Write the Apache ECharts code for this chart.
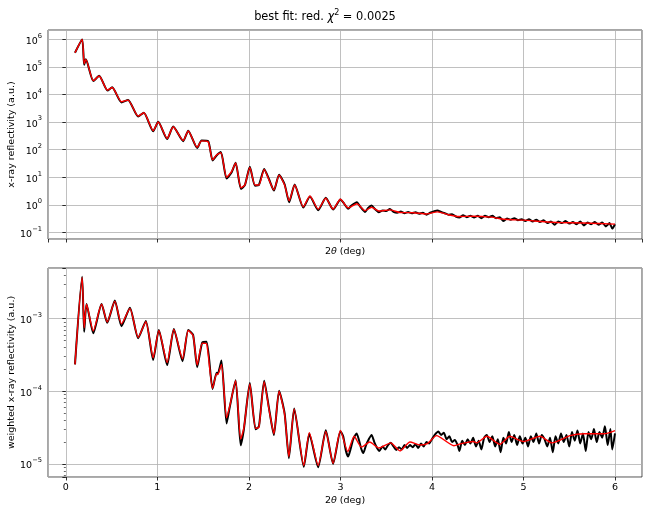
<!DOCTYPE html>
<html>
<head>
<meta charset="utf-8">
<script src="https://cdn.jsdelivr.net/npm/echarts@6/dist/echarts.min.js"></script>
<style>
  html, body { margin: 0; padding: 0; background: #fff; }
  #chart { width: 650px; height: 513px; }
</style>
</head>
<body>
<div id="chart"></div>
<script>
// reflectivity R(2theta), measured (black) and best fit (red)
const topFit = [
  [0.1, 3.3e5], [0.178, 1.0e6], [0.2, 1.3e5], [0.219, 1.9e5], [0.3, 3.2e4], [0.364, 4.7e4],
  [0.455, 1.45e4], [0.506, 1.8e4], [0.608, 5.5e3], [0.68, 6.3e3], [0.79, 1.66e3], [0.852, 2.2e3],
  [0.954, 490], [1.009, 1020], [1.107, 257], [1.173, 680], [1.282, 214], [1.337, 480],
  [1.435, 123], [1.483, 210], [1.555, 195], [1.603, 43], [1.647, 65], [1.694, 78],
  [1.756, 10], [1.81, 16], [1.855, 33], [1.913, 4.2], [1.956, 5.3], [2.01, 23],
  [2.066, 5.3], [2.11, 5.3], [2.167, 19.5], [2.22, 8], [2.273, 3.5], [2.33, 12],
  [2.39, 5.3], [2.44, 1.4], [2.5, 5.3], [2.594, 0.85], [2.667, 2.1], [2.757, 0.7],
  [2.84, 1.74], [2.92, 0.7], [3.0, 1.6], [3.085, 0.78], [3.18, 1.1], [3.27, 0.62],
  [3.34, 0.82], [3.42, 0.6], [3.54, 0.66], [3.65, 0.53], [3.8, 0.52], [3.94, 0.47],
  [4.06, 0.56], [4.18, 0.44], [4.29, 0.38], [4.45, 0.39], [4.65, 0.36], [4.79, 0.3],
  [5.0, 0.28], [5.2, 0.25], [5.38, 0.23], [5.65, 0.22], [6.0, 0.2]
];
const topData = [
  [0.1, 3.3e5], [0.178, 1.0e6], [0.2, 1.2e5], [0.219, 1.9e5], [0.3, 3.1e4], [0.364, 4.8e4],
  [0.455, 1.4e4], [0.506, 1.85e4], [0.608, 5.2e3], [0.68, 6.4e3], [0.79, 1.6e3], [0.852, 2.2e3],
  [0.954, 470], [1.009, 1030], [1.107, 245], [1.173, 690], [1.282, 205], [1.337, 490],
  [1.435, 115], [1.483, 215], [1.555, 205], [1.603, 41], [1.647, 62], [1.694, 82],
  [1.756, 9], [1.81, 15], [1.855, 34], [1.913, 3.8], [1.956, 5.2], [2.01, 24],
  [2.066, 5.0], [2.11, 5.4], [2.167, 20], [2.22, 8.5], [2.273, 3.3], [2.33, 12.5],
  [2.39, 5.6], [2.44, 1.25], [2.5, 5.5], [2.594, 0.8], [2.667, 2.0], [2.757, 0.64],
  [2.84, 1.8], [2.92, 0.68],
  [3.0, 1.58], [3.04, 1.12], [3.085, 0.72], [3.12, 0.95], [3.18, 1.26], [3.22, 0.83],
  [3.27, 0.55], [3.3, 0.76], [3.34, 0.95], [3.38, 0.69], [3.42, 0.54], [3.46, 0.63],
  [3.5, 0.6], [3.54, 0.71], [3.58, 0.56], [3.62, 0.52], [3.66, 0.58], [3.7, 0.5],
  [3.74, 0.55], [3.78, 0.5], [3.82, 0.54], [3.86, 0.48], [3.9, 0.52], [3.94, 0.44],
  [3.98, 0.52], [4.02, 0.58], [4.06, 0.63], [4.1, 0.55], [4.14, 0.5], [4.18, 0.44],
  [4.22, 0.46], [4.26, 0.38], [4.3, 0.35], [4.34, 0.42], [4.38, 0.36], [4.42, 0.4],
  [4.46, 0.35], [4.5, 0.4], [4.54, 0.33], [4.58, 0.4], [4.62, 0.36], [4.66, 0.4],
  [4.7, 0.33], [4.74, 0.36], [4.78, 0.26], [4.82, 0.32], [4.86, 0.29], [4.9, 0.33],
  [4.94, 0.28], [4.98, 0.3], [5.02, 0.26], [5.06, 0.3], [5.1, 0.25], [5.14, 0.29],
  [5.18, 0.24], [5.22, 0.28], [5.26, 0.22], [5.3, 0.25], [5.34, 0.19], [5.38, 0.25],
  [5.42, 0.22], [5.46, 0.26], [5.5, 0.21], [5.54, 0.24], [5.58, 0.2], [5.62, 0.25],
  [5.66, 0.18], [5.7, 0.23], [5.74, 0.2], [5.78, 0.24], [5.82, 0.19], [5.86, 0.23],
  [5.9, 0.166], [5.94, 0.22], [5.97, 0.138], [6.0, 0.2]
];

// weighted reflectivity
const bottomFit = [
  [0.1, 2.35e-4], [0.178, 3.7e-3], [0.2, 7.5e-4], [0.226, 1.58e-3], [0.3, 6.8e-4], [0.39, 1.58e-3],
  [0.452, 9.0e-4], [0.535, 1.75e-3], [0.608, 8.5e-4], [0.7, 1.39e-3], [0.79, 5.5e-4], [0.874, 9.1e-4],
  [0.954, 2.9e-4], [1.016, 6.9e-4], [1.107, 2.5e-4], [1.18, 7.1e-4], [1.275, 2.8e-4], [1.337, 6.9e-4],
  [1.39, 5.9e-4], [1.435, 2.3e-4], [1.49, 4.6e-4], [1.538, 4.5e-4], [1.603, 1.1e-4], [1.647, 1.75e-4],
  [1.66, 1.7e-4], [1.7, 2.35e-4], [1.756, 4.3e-5], [1.79, 6.2e-5], [1.855, 1.4e-4], [1.91, 2.2e-5],
  [1.945, 3.1e-5], [2.01, 1.26e-4], [2.073, 3.1e-5], [2.11, 3.2e-5], [2.167, 1.36e-4], [2.22, 5.6e-5],
  [2.273, 2.6e-5], [2.33, 1.0e-4], [2.39, 4.8e-5], [2.437, 1.26e-5], [2.495, 5.7e-5], [2.6, 9.5e-6],
  [2.66, 2.7e-5], [2.757, 9.5e-6], [2.84, 2.8e-5], [2.92, 1.02e-5], [3.0, 2.88e-5], [3.08, 1.48e-5],
  [3.15, 2.4e-5], [3.23, 1.7e-5], [3.32, 2.0e-5], [3.42, 1.66e-5], [3.55, 1.95e-5], [3.65, 1.51e-5],
  [3.76, 2.0e-5], [3.87, 1.82e-5], [3.95, 1.9e-5], [4.05, 2.45e-5], [4.24, 1.78e-5], [4.32, 1.9e-5],
  [4.45, 2.04e-5], [4.49, 1.95e-5], [4.6, 2.4e-5], [4.74, 1.86e-5], [4.85, 2.4e-5], [5.0, 2.04e-5],
  [5.18, 2.4e-5], [5.31, 1.95e-5], [5.51, 2.45e-5], [5.66, 2.6e-5], [5.88, 2.6e-5], [6.0, 2.88e-5]
];
const bottomData = [
  [0.1, 2.35e-4], [0.178, 3.8e-3], [0.2, 6.6e-4], [0.226, 1.6e-3], [0.3, 6.3e-4], [0.39, 1.6e-3],
  [0.452, 8.8e-4], [0.535, 1.78e-3], [0.608, 7.9e-4], [0.7, 1.42e-3], [0.79, 5.4e-4], [0.874, 9.3e-4],
  [0.954, 2.7e-4], [1.016, 7.0e-4], [1.107, 2.3e-4], [1.18, 7.2e-4], [1.275, 2.6e-4], [1.337, 7.0e-4],
  [1.39, 6.0e-4], [1.435, 2.15e-4], [1.49, 4.7e-4], [1.538, 4.8e-4], [1.603, 1.08e-4], [1.647, 1.8e-4],
  [1.66, 1.75e-4], [1.7, 2.65e-4], [1.756, 3.6e-5], [1.79, 6.0e-5], [1.855, 1.42e-4], [1.91, 1.8e-5],
  [1.945, 3.0e-5], [2.01, 1.3e-4], [2.073, 3.0e-5], [2.11, 3.3e-5], [2.167, 1.4e-4], [2.22, 5.8e-5],
  [2.273, 2.5e-5], [2.33, 1.02e-4], [2.39, 5.0e-5], [2.437, 1.2e-5], [2.495, 5.8e-5], [2.6, 9.1e-6],
  [2.66, 2.6e-5], [2.757, 9.0e-6], [2.84, 2.9e-5], [2.92, 1.0e-5],
  [3.0, 2.82e-5], [3.03, 2.4e-5], [3.06, 1.51e-5], [3.085, 1.26e-5], [3.11, 1.58e-5], [3.14, 2.19e-5],
  [3.177, 2.63e-5], [3.2, 2.19e-5], [3.23, 1.58e-5], [3.25, 1.41e-5], [3.28, 1.82e-5], [3.31, 2.19e-5],
  [3.34, 2.51e-5], [3.37, 2.0e-5], [3.4, 1.66e-5], [3.425, 1.51e-5], [3.46, 1.74e-5], [3.49, 1.58e-5],
  [3.52, 1.82e-5], [3.55, 1.95e-5], [3.58, 1.74e-5], [3.61, 1.55e-5], [3.64, 1.7e-5], [3.67, 1.58e-5],
  [3.7, 1.82e-5], [3.73, 1.66e-5], [3.76, 1.82e-5], [3.79, 1.7e-5], [3.82, 1.86e-5], [3.85, 1.66e-5],
  [3.88, 1.91e-5], [3.91, 1.74e-5], [3.94, 2.0e-5], [3.97, 1.91e-5], [4.0, 2.19e-5], [4.03, 2.51e-5],
  [4.07, 2.79e-5], [4.1, 2.51e-5], [4.13, 2.69e-5], [4.16, 2.19e-5], [4.19, 2.4e-5], [4.22, 2.0e-5],
  [4.25, 2.14e-5], [4.28, 1.82e-5], [4.3, 1.51e-5], [4.33, 2.09e-5], [4.36, 1.82e-5], [4.39, 2.19e-5],
  [4.42, 1.91e-5], [4.45, 2.29e-5], [4.48, 1.74e-5], [4.51, 2.09e-5], [4.54, 1.58e-5], [4.57, 2.29e-5],
  [4.6, 2.51e-5], [4.63, 2.0e-5], [4.66, 2.4e-5], [4.69, 1.74e-5], [4.72, 2.19e-5], [4.75, 1.45e-5],
  [4.78, 2.29e-5], [4.81, 1.91e-5], [4.84, 2.75e-5], [4.87, 2.0e-5], [4.9, 2.51e-5], [4.93, 1.82e-5],
  [4.96, 2.4e-5], [4.99, 1.91e-5], [5.02, 2.29e-5], [5.05, 1.74e-5], [5.08, 2.4e-5], [5.11, 2.0e-5],
  [5.14, 2.63e-5], [5.17, 1.91e-5], [5.2, 2.51e-5], [5.23, 2.19e-5], [5.26, 1.74e-5], [5.29, 2.29e-5],
  [5.32, 1.45e-5], [5.35, 2.4e-5], [5.38, 1.91e-5], [5.41, 2.63e-5], [5.44, 2.0e-5], [5.47, 2.51e-5],
  [5.5, 1.74e-5], [5.53, 2.75e-5], [5.56, 2.09e-5], [5.59, 2.88e-5], [5.62, 1.91e-5], [5.65, 2.63e-5],
  [5.68, 1.51e-5], [5.71, 2.75e-5], [5.74, 2.19e-5], [5.77, 3.02e-5], [5.8, 2.0e-5], [5.83, 2.75e-5],
  [5.86, 2.29e-5], [5.89, 3.31e-5], [5.92, 1.82e-5], [5.95, 3.02e-5], [5.97, 1.58e-5], [6.0, 2.63e-5]
];

const xRange = [-0.195, 6.295];
const topRange = [0.058, 2.2e6];
const bottomRange = [6.6e-6, 5.0e-3];

const FONT = "DejaVu Sans";
const chart = echarts.init(document.getElementById("chart"), null, { renderer: "canvas" });

// 10^n style labels, only on whole decades
function powLabel(v) {
  const e = Math.log10(v);
  const r = Math.round(e);
  if (Math.abs(e - r) > 1e-6) return "";
  const s = r < 0 ? "\u2212" + (-r) : String(r);
  return "{b|10}{s|" + s + "}";
}

const supRich = {
  b: { fontFamily: FONT, fontSize: 9.5, color: "#000", verticalAlign: "bottom", lineHeight: 14 },
  s: { fontFamily: FONT, fontSize: 6.7, color: "#000", verticalAlign: "top", lineHeight: 14 }
};

const nameRich = {
  n: { fontFamily: FONT, fontSize: 9.5, color: "#000" },
  i: { fontFamily: FONT, fontSize: 9.5, color: "#000", fontStyle: "italic" }
};

function xAxisOf(grid, showLabels, gap) {
  return {
    type: "value",
    gridIndex: grid,
    min: xRange[0],
    max: xRange[1],
    name: "{n|2}{i|θ}{n| (deg)}",
    nameLocation: "middle",
    nameGap: gap,
    nameMoveOverlap: false,
    nameTextStyle: { rich: nameRich },
    axisLine: { show: false },
    axisTick: { show: true, length: 3.5, lineStyle: { color: "#000", width: 0.8 } },
    axisLabel: {
      show: showLabels,
      margin: 6,
      showMinLabel: false,
      showMaxLabel: false,
      fontFamily: FONT,
      fontSize: 9.5,
      color: "#000",
      formatter: v => (Math.abs(v - Math.round(v)) < 1e-6 ? String(Math.round(v)) : "")
    },
    splitLine: { show: true, lineStyle: { color: "#b0b0b0", width: 0.8 } }
  };
}

function yAxisOf(grid, range, title, minor) {
  return {
    type: "log",
    gridIndex: grid,
    min: range[0],
    max: range[1],
    name: title,
    nameLocation: "middle",
    nameRotate: 90,
    nameGap: 31,
    nameMoveOverlap: false,
    nameTextStyle: { fontFamily: FONT, fontSize: 9.5, color: "#000" },
    axisLine: { show: false },
    axisTick: { show: true, length: 3.5, lineStyle: { color: "#000", width: 0.8 } },
    minorTick: { show: minor, splitNumber: 9, length: 2, lineStyle: { color: "#000", width: 0.6 } },
    axisLabel: {
      margin: 6,
      showMinLabel: false,
      showMaxLabel: false,
      formatter: powLabel,
      rich: supRich
    },
    splitLine: { show: true, lineStyle: { color: "#b0b0b0", width: 0.8 } }
  };
}

function lineOf(data, color, width, xi, z) {
  return {
    type: "line",
    data: data,
    xAxisIndex: xi,
    yAxisIndex: xi,
    showSymbol: false,
    smooth: 0.2,
    lineStyle: { color: color, width: width },
    z: z
  };
}

chart.setOption({
  animation: false,
  backgroundColor: "#fff",
  title: {
    text: "{n|best fit: red. }{i|χ}{s|2}{n| = 0.0025}",
    left: "center",
    top: 4,
    textStyle: {
      fontWeight: "normal",
      rich: {
        n: { fontFamily: FONT, fontSize: 11.4, color: "#000", fontWeight: "normal" },
        i: { fontFamily: FONT, fontSize: 11.4, color: "#000", fontStyle: "italic", fontWeight: "normal" },
        s: { fontFamily: FONT, fontSize: 8, color: "#000", verticalAlign: "top", lineHeight: 16, fontWeight: "normal" }
      }
    }
  },
  grid: [
    { left: 48, right: 8, top: 30, height: 209, outerBoundsMode: "none", containLabel: false,
      show: true, borderColor: "#222", borderWidth: 0.8 },
    { left: 48, right: 8, top: 268, height: 209, outerBoundsMode: "none", containLabel: false,
      show: true, borderColor: "#222", borderWidth: 0.8 }
  ],
  xAxis: [xAxisOf(0, false, 8), xAxisOf(1, true, 19)],
  yAxis: [
    yAxisOf(0, topRange, "x-ray reflectivity (a.u.)", false),
    yAxisOf(1, bottomRange, "weighted x-ray reflectivity (a.u.)", true)
  ],
  series: [
    lineOf(topData, "#000", 2, 0, 2),
    lineOf(topFit, "#ff0000", 1.4, 0, 3),
    lineOf(bottomData, "#000", 2, 1, 2),
    lineOf(bottomFit, "#ff0000", 1.4, 1, 3)
  ]
});
</script>
</body>
</html>
